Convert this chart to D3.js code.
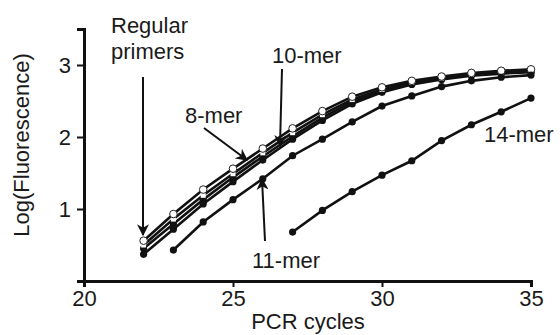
<!DOCTYPE html>
<html>
<head>
<meta charset="utf-8">
<script src="https://cdn.jsdelivr.net/npm/d3@7"></script>
<style>
  body { margin: 0; background: #fff; }
  text { font-family: "Liberation Sans", Arial, sans-serif; fill: #1a1a1a; }
</style>
</head>
<body>
<div class="viz"></div>
<script>
// data
var cycles = [22, 23, 24, 25, 26, 27, 28, 29, 30, 31, 32, 33, 34, 35];
var regular = [0.56, 0.93, 1.27, 1.56, 1.84, 2.12, 2.36, 2.56, 2.69, 2.78, 2.84, 2.89, 2.92, 2.94];
var mer8    = [0.50, 0.86, 1.19, 1.49, 1.78, 2.06, 2.31, 2.52, 2.66, 2.76, 2.82, 2.87, 2.90, 2.92];
var mer10   = [0.45, 0.79, 1.13, 1.44, 1.73, 2.01, 2.27, 2.49, 2.64, 2.75, 2.82, 2.87, 2.90, 2.91];
var other   = [0.37, 0.72, 1.07, 1.38, 1.68, 1.97, 2.23, 2.46, 2.62, 2.73, 2.80, 2.85, 2.88, 2.90];
var cycles11 = [23, 24, 25, 26, 27, 28, 29, 30, 31, 32, 33, 34, 35];
var mer11   = [0.43, 0.82, 1.13, 1.42, 1.74, 1.97, 2.21, 2.43, 2.57, 2.70, 2.78, 2.83, 2.86];
var cycles14 = [27, 28, 29, 30, 31, 32, 33, 34, 35];
var mer14   = [0.68, 0.98, 1.24, 1.47, 1.67, 1.95, 2.17, 2.35, 2.54];
var xTicks = [20, 25, 30, 35];
var yTicks = [1, 2, 3];

var W = 560, H = 335;
var svg = d3.select('.viz').append('svg')
  .attr('width', W).attr('height', H);

var xScale = d3.scaleLinear().domain([20, 35]).range([84, 531]);
var yScale = d3.scaleLinear().domain([0, 3.5]).range([281, 29]);

var xAxis = d3.axisBottom(xScale).tickValues(xTicks).tickSize(6).tickPadding(3);
var yAxis = d3.axisLeft(yScale).tickValues([0].concat(yTicks)).tickSize(7).tickPadding(6)
  .tickFormat(function(d){ return d === 0 ? '' : d; });

var gx = svg.append('g').attr('class', 'x axis')
  .attr('transform', 'translate(0,' + yScale(0) + ')')
  .call(xAxis);
var gy = svg.append('g').attr('class', 'y axis')
  .attr('transform', 'translate(' + xScale(20) + ',0)')
  .call(yAxis);

[gx, gy].forEach(function(g){
  g.select('.domain').attr('stroke', '#111').attr('stroke-width', 3);
  g.selectAll('.tick line').attr('stroke', '#111').attr('stroke-width', 2);
  g.selectAll('.tick text').style('font-size', '22px').attr('font-family', '"Liberation Sans", Arial, sans-serif').attr('fill', '#1a1a1a');
});

// axis labels
svg.append('text')
  .attr('x', 308).attr('y', 329)
  .attr('text-anchor', 'middle')
  .style('font-size', '22px')
  .text('PCR cycles');

svg.append('text')
  .attr('transform', 'translate(29,145) rotate(-90)')
  .attr('text-anchor', 'middle')
  .style('font-size', '22px')
  .text('Log(Fluorescence)');

var line = d3.line()
  .x(function(d){ return xScale(d[0]); })
  .y(function(d){ return yScale(d[1]); });

function zip(xs, ys){ return xs.map(function(x, i){ return [x, ys[i]]; }); }

var series = [
  {data: zip(cycles, other), open: false},
  {data: zip(cycles, mer10), open: false},
  {data: zip(cycles, mer8), open: 'square'},
  {data: zip(cycles, regular), open: 'circle'},
  {data: zip(cycles11, mer11), open: false},
  {data: zip(cycles14, mer14), open: false}
];

series.forEach(function(s){
  svg.append('path')
    .datum(s.data)
    .attr('fill', 'none')
    .attr('stroke', '#111')
    .attr('stroke-width', 2.6)
    .attr('d', line);
});

series.forEach(function(s){
  var g = svg.append('g');
  if (s.open === 'circle') {
    g.selectAll('circle').data(s.data).enter().append('circle')
      .attr('cx', function(d){ return xScale(d[0]); })
      .attr('cy', function(d){ return yScale(d[1]); })
      .attr('r', 3.8)
      .attr('fill', '#fff').attr('stroke', '#222').attr('stroke-width', 1);
  } else if (s.open === 'square') {
    g.selectAll('rect').data(s.data).enter().append('rect')
      .attr('x', function(d){ return xScale(d[0]) - 2.5; })
      .attr('y', function(d){ return yScale(d[1]) - 2.5; })
      .attr('width', 5).attr('height', 5)
      .attr('fill', '#fff').attr('stroke', 'none');
  } else {
    g.selectAll('circle').data(s.data).enter().append('circle')
      .attr('cx', function(d){ return xScale(d[0]); })
      .attr('cy', function(d){ return yScale(d[1]); })
      .attr('r', 3.6)
      .attr('fill', '#111');
  }
});

// annotations with arrows
var defs = svg.append('defs');
defs.append('marker')
  .attr('id', 'arrow')
  .attr('viewBox', '0 0 10 10')
  .attr('refX', 9).attr('refY', 5)
  .attr('markerWidth', 12).attr('markerHeight', 12)
  .attr('markerUnits', 'userSpaceOnUse')
  .attr('orient', 'auto')
  .append('path').attr('d', 'M0,0 L10,5 L0,10 L3,5 Z').attr('fill', '#111');

function arrow(x1, y1, x2, y2){
  svg.append('line')
    .attr('x1', x1).attr('y1', y1).attr('x2', x2).attr('y2', y2)
    .attr('stroke', '#111').attr('stroke-width', 2)
    .attr('marker-end', 'url(#arrow)');
}

function label(x, y, txt){
  svg.append('text').attr('x', x).attr('y', y).style('font-size', '22px').text(txt);
}

label(111, 33, 'Regular');
label(111, 59, 'primers');
arrow(143, 77, 143, 235);

label(185, 123, '8-mer');
arrow(204, 128, 247, 160);

label(272, 63, '10-mer');
arrow(282, 69, 280, 146);

label(252, 268, '11-mer');
arrow(265, 241, 262, 179);

label(484, 142, '14-mer');
</script>
</body>
</html>
